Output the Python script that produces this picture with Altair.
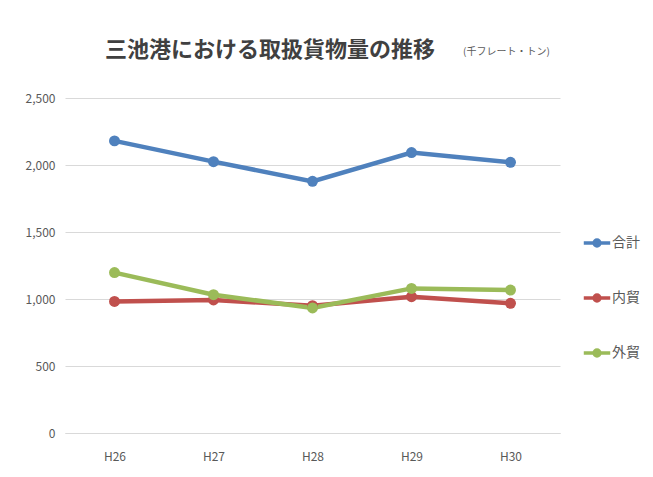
import altair as alt
import pandas as pd

years = ["H26", "H27", "H28", "H29", "H30"]
total = [2180, 2025, 1878, 2093, 2020]
domestic = [982, 993, 950, 1017, 968]
foreign = [1197, 1032, 933, 1079, 1067]
series_names = ["合計", "内貿", "外貿"]
colors = ["#4F81BD", "#C0504D", "#9BBB59"]
unit_text = "(千フレート・トン)"

rows = []
for name, vals in zip(series_names, [total, domestic, foreign]):
    for y, v in zip(years, vals):
        rows.append({"年度": y, "系列": name, "値": v})
df = pd.DataFrame(rows)

FONT = "Noto Sans CJK JP"
sym = "M-1,0L1,0M-0.22,0A0.22,0.22 0 1,1 0.22,0A0.22,0.22 0 1,1 -0.22,0Z"

lines = alt.Chart(df).mark_line(
    strokeWidth=4.5,
    point=alt.OverlayMarkDef(size=120, filled=True),
).encode(
    x=alt.X("年度:O", sort=years,
            scale=alt.Scale(type="point", padding=0.5),
            axis=alt.Axis(title=None, labelAngle=0, ticks=False, domain=True,
                          domainColor="#d9d9d9", labelPadding=18,
                          labelFontSize=12, labelColor="#595959", labelFont=FONT)),
    y=alt.Y("値:Q", scale=alt.Scale(domain=[0, 2500], nice=False),
            axis=alt.Axis(values=[0, 500, 1000, 1500, 2000, 2500], format=",d",
                          ticks=False, domain=False, gridColor="#d9d9d9",
                          labelPadding=10, labelFontSize=12, labelColor="#595959",
                          labelFont=FONT, title=None)),
    color=alt.Color("系列:N", sort=series_names,
                    scale=alt.Scale(domain=series_names, range=colors),
                    legend=alt.Legend(title=None, orient="none", legendX=517, legendY=130,
                                      symbolType=sym, symbolSize=700, symbolStrokeWidth=3.5,
                                      rowPadding=30, labelFontSize=14, labelColor="#595959",
                                      labelFont=FONT, labelOffset=0)),
)

unit = alt.Chart(pd.DataFrame({"t": [unit_text]})).mark_text(
    align="left", baseline="middle", fontSize=10, color="#595959", font=FONT
).encode(text="t:N", x=alt.value(398), y=alt.value(-46))

chart = alt.layer(lines, unit).properties(
    width=495, height=335,
    title=alt.TitleParams("三池港における取扱貨物量の推移", anchor="start", frame="group",
                          dx=40, offset=-15, fontSize=22, fontWeight="bold", color="#404040",
                          font=FONT),
    autosize=alt.AutoSizeParams(type="none"),
    padding={"left": 57, "top": 90, "right": 85, "bottom": 36},
).configure_view(stroke=None)

chart.save("out.html", embed_options={"renderer": "svg", "actions": False})
